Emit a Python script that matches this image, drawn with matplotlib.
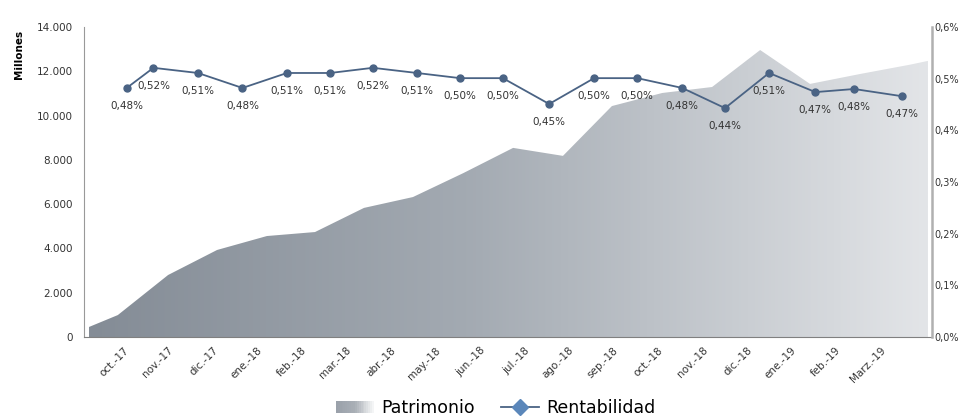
import numpy as np
import matplotlib
matplotlib.use("Agg")
import matplotlib.pyplot as plt
from matplotlib.colors import LinearSegmentedColormap
from matplotlib.lines import Line2D
from matplotlib.patches import Patch, Rectangle
from matplotlib.legend_handler import HandlerBase
from matplotlib.ticker import FuncFormatter, MultipleLocator

plt.rcParams['font.family'] = ['DejaVu Sans']

# month labels (oct.-17 = 0)
meses = ["oct.-17", "nov.-17", "dic.-17", "ene.-18", "feb.-18", "mar.-18",
         "abr.-18", "may.-18", "jun.-18", "jul.-18", "ago.-18", "sep.-18",
         "oct.-18", "nov.-18", "dic.-18", "ene.-19", "feb.-19", "Marz.-19"]

# Patrimonio (millones) and its time position in months
patrimonio_t = [-0.45, 0.2, 1.33, 2.43, 3.55, 4.63, 5.73, 6.83, 7.96, 9.08,
                10.2, 11.3, 12.43, 13.55, 14.63, 15.75, 16.88, 18.0, 18.4]
patrimonio = [450, 990, 2800, 3930, 4560, 4740, 5830, 6320, 7400, 8540,
              8180, 10430, 11020, 11290, 12960, 11430, 11880, 12300, 12470]

# Rentabilidad (%) and its time position in months
rent_t = [0.4, 1, 2, 3, 4, 4.97, 5.93, 6.92, 7.89, 8.85, 9.89, 10.9,
          11.87, 12.88, 13.84, 14.83, 15.87, 16.74, 17.82]
rentabilidad = [0.482, 0.521, 0.511, 0.482, 0.511, 0.511, 0.521, 0.511,
                0.501, 0.501, 0.451, 0.501, 0.501, 0.482, 0.443, 0.511,
                0.474, 0.480, 0.466]

cmap = LinearSegmentedColormap.from_list(
    "pat", [(0, "#848c96"), (0.45, "#a3aab2"), (1, "#e3e5e8")])


class GradientHandler(HandlerBase):
    # legend swatch drawn as thin strips, dark -> light
    def create_artists(self, legend, orig_handle, xdescent, ydescent,
                       width, height, fontsize, trans):
        n = 20
        cm = LinearSegmentedColormap.from_list(
            "leg", ["#9aa1aa", "#a9afb6", "#f4f5f6"])
        arts = []
        for i in range(n):
            r = Rectangle((-xdescent + width * i / n, -ydescent),
                          width / n * 1.05, height,
                          facecolor=cm(i / (n - 1)), edgecolor="none",
                          transform=trans)
            arts.append(r)
        return arts


fig = plt.figure(figsize=(9.62, 4.18), dpi=100)
ax = fig.add_axes([0.0873, 0.1938, 0.8815, 0.7416])
ax2 = ax.twinx()

xmin, xmax = -0.56, 18.49

# gradient area
poly = ax.fill_between(patrimonio_t, 0, patrimonio, color="none", lw=0)
grad = np.linspace(0, 1, 512).reshape(1, -1)
img = ax.imshow(grad, cmap=cmap, aspect="auto",
                extent=[patrimonio_t[0], patrimonio_t[-1], 0, 14000],
                origin="lower", zorder=1)
img.set_clip_path(poly.get_paths()[0], ax.transData)
ax.set_xlim(xmin, xmax)
ax.set_ylim(0, 14000)
ax2.set_ylim(0, 0.6)

# rentabilidad line
line_col = "#4a6384"
ax2.plot(rent_t, rentabilidad, color=line_col, lw=1.3, marker="o",
         markersize=5, zorder=3)
for t, v in zip(rent_t, rentabilidad):
    ax2.annotate(f"{v:.2f}".replace(".", ",") + "%", (t, v),
                 xytext=(0, -13), textcoords="offset points",
                 ha="center", va="center", fontsize=7.5, color="#333333")

# axes styling
for a in (ax, ax2):
    a.spines["top"].set_visible(False)
    a.tick_params(length=0, labelsize=7.5, colors="#333333")
ax.spines["left"].set_color("#999999")
ax.spines["bottom"].set_color("#808080")
ax.spines["right"].set_visible(False)
ax2.spines["left"].set_visible(False)
ax2.spines["bottom"].set_visible(False)
ax2.spines["right"].set_color("#b0b0b0")
ax2.spines["right"].set_linewidth(1.8)

ax.yaxis.set_major_locator(MultipleLocator(2000))
ax.yaxis.set_major_formatter(FuncFormatter(
    lambda v, p: f"{int(v):,}".replace(",", ".")))
ax.tick_params(axis="y", pad=8)
ax2.yaxis.set_major_locator(MultipleLocator(0.1))
ax2.yaxis.set_major_formatter(FuncFormatter(
    lambda v, p: f"{v:.1f}".replace(".", ",") + "%"))
ax2.tick_params(axis="y", pad=2, labelsize=7)

ax.set_xticks(np.arange(len(meses)) + 0.33)
ax.set_xticklabels(meses, rotation=45, ha="right", va="top",
                   rotation_mode="anchor", fontsize=7.5, color="#333333")
ax.tick_params(axis="x", pad=6)

fig.text(0.02, 0.87, "Millones", rotation=90, ha="center", va="center",
         fontsize=7.5, fontweight="bold")

# legend
pat_handle = Patch(facecolor="#a9afb6", edgecolor="none")
handles = [pat_handle,
           Line2D([0], [0], color=line_col, lw=1.3, marker="D",
                  markersize=8, markerfacecolor="#5b87ba",
                  markeredgecolor="#5b87ba")]
fig.legend(handles, ["Patrimonio", "Rentabilidad"], loc="lower center",
           bbox_to_anchor=(0.515, -0.035), ncol=2, frameon=False,
           fontsize=12.5, handlelength=2.2, columnspacing=1.5,
           handletextpad=0.4, handler_map={pat_handle: GradientHandler()})

fig.savefig("out.png", dpi=100)
